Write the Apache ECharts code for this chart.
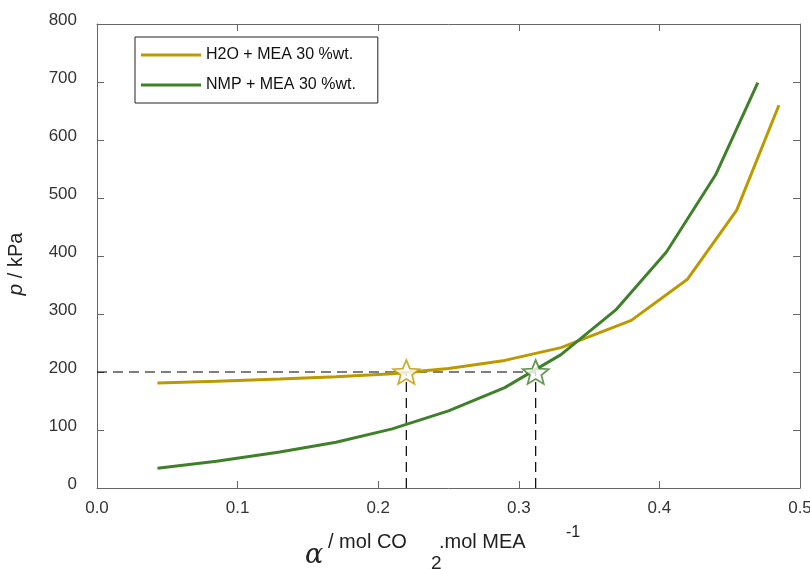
<!DOCTYPE html>
<html>
<head>
<meta charset="utf-8">
<script src="https://cdn.jsdelivr.net/npm/echarts@6/dist/echarts.min.js"></script>
<style>
  html, body { margin: 0; padding: 0; background: #fff; }
  #chart { width: 810px; height: 569px; }
</style>
</head>
<body>
<div id="chart"></div>
<script>
// loading alpha (mol CO2 / mol MEA) vs pressure (kPa)
const h2oAlpha = [0.043, 0.085, 0.13, 0.17, 0.21, 0.25, 0.29, 0.33, 0.38, 0.42, 0.455, 0.485];
const h2oP     = [181, 184, 188, 192, 197, 206, 220, 242, 289, 360, 479, 660];
const nmpAlpha = [0.043, 0.085, 0.13, 0.17, 0.21, 0.25, 0.29, 0.33, 0.369, 0.405, 0.44, 0.47];
const nmpP     = [34, 46, 62, 79, 102, 133, 173, 230, 307, 407, 540, 699];

// operating point at 200 kPa
const targetP = 200;
const h2oAlphaAt200 = 0.22;
const nmpAlphaAt200 = 0.312;

const xTicks = [0, 0.5, 0.1];   // min, max, interval
const yTicks = [0, 800, 100];

const GOLD = "#BD9900";
const GREEN = "#41802A";
const FONT = "Liberation Sans, Arial, sans-serif";

const star = "path://M0 -10 L2.6 -3.5 L9.51 -3.09 L4.2 1.4 L5.88 8.09 L0 4.4 L-5.88 8.09 L-4.2 1.4 L-9.51 -3.09 L-2.6 -3.5 Z";

const pairs = (xs, ys) => xs.map((x, i) => [x, ys[i]]);

const chart = echarts.init(document.getElementById("chart"));

const axisLineStyle = { color: "#666", width: 1 };
const tickStyle = { show: true, inside: true, length: 7, lineStyle: { color: "#666" } };
const dashStyle = { color: "#000", width: 1.2, type: [10, 6] };

chart.setOption({
  backgroundColor: "#fff",
  animation: false,
  grid: { left: 97, right: 10, top: 24, bottom: 81, outerBoundsMode: "none", containLabel: false },
  legend: {
    left: 135,
    top: 37,
    orient: "vertical",
    data: ["H2O + MEA 30 %wt.", "NMP + MEA 30 %wt."],
    icon: "rect",
    itemWidth: 60,
    itemHeight: 3,
    itemGap: 14,
    padding: [10, 22, 10, 6],
    borderColor: "#222",
    borderWidth: 1,
    textStyle: { color: "#111", fontSize: 16, fontFamily: FONT },
    selectedMode: false,
  },
  xAxis: [
    {
      type: "value",
      min: xTicks[0], max: xTicks[1], interval: xTicks[2],
      axisLine: { show: true, onZero: false, lineStyle: axisLineStyle },
      axisTick: tickStyle,
      splitLine: { show: false },
      axisLabel: {
        color: "#333", fontSize: 17, fontFamily: FONT, margin: 12,
        formatter: (v) => v.toFixed(1),
      },
    },
    {
      type: "value", position: "top",
      min: xTicks[0], max: xTicks[1], interval: xTicks[2],
      axisLine: { show: true, onZero: false, lineStyle: axisLineStyle },
      axisTick: tickStyle,
      axisLabel: { show: false },
      splitLine: { show: false },
    },
  ],
  yAxis: [
    {
      type: "value",
      min: yTicks[0], max: yTicks[1], interval: yTicks[2],
      axisLine: { show: true, onZero: false, lineStyle: axisLineStyle },
      axisTick: tickStyle,
      splitLine: { show: false },
      axisLabel: {
        color: "#333", fontSize: 17, fontFamily: FONT, margin: 20,
        verticalAlign: "bottom", lineHeight: 7,
      },
    },
    {
      type: "value", position: "right",
      min: yTicks[0], max: yTicks[1], interval: yTicks[2],
      axisLine: { show: true, onZero: false, lineStyle: axisLineStyle },
      axisTick: tickStyle,
      axisLabel: { show: false },
      splitLine: { show: false },
    },
  ],
  graphic: [
    {
      type: "text", x: 16, y: 264, rotation: Math.PI / 2,
      style: {
        text: "{i|p} / kPa", align: "center", verticalAlign: "middle",
        fontSize: 20, fontFamily: FONT, fill: "#222",
        rich: { i: { fontStyle: "italic", fontSize: 21, fontFamily: FONT, fill: "#222" } },
      },
    },
    { type: "text", x: 314, y: 556, style: { text: "α", align: "center", verticalAlign: "middle", fontSize: 27, fontStyle: "italic", fontFamily: "DejaVu Serif, serif", fill: "#222" } },
    { type: "text", x: 328, y: 542, style: { text: "/ mol CO", verticalAlign: "middle", fontSize: 20, fontFamily: FONT, fill: "#222" } },
    { type: "text", x: 431, y: 564, style: { text: "2", verticalAlign: "middle", fontSize: 19, fontFamily: FONT, fill: "#222" } },
    { type: "text", x: 439, y: 542, style: { text: ".mol MEA", verticalAlign: "middle", fontSize: 20, fontFamily: FONT, fill: "#222" } },
    { type: "text", x: 566, y: 533, style: { text: "-1", verticalAlign: "middle", fontSize: 16, fontFamily: FONT, fill: "#222" } },
  ],
  series: [
    {
      name: "guide",
      type: "line",
      data: [[0, targetP], [nmpAlphaAt200, targetP]],
      showSymbol: false,
      silent: true,
      lineStyle: dashStyle,
      z: 1,
    },
    {
      name: "guide2",
      type: "line",
      data: [[h2oAlphaAt200, 0], [h2oAlphaAt200, targetP]],
      showSymbol: false,
      silent: true,
      lineStyle: dashStyle,
      z: 1,
    },
    {
      name: "guide3",
      type: "line",
      data: [[nmpAlphaAt200, 0], [nmpAlphaAt200, targetP]],
      showSymbol: false,
      silent: true,
      lineStyle: dashStyle,
      z: 1,
    },
    {
      name: "H2O + MEA 30 %wt.",
      type: "line",
      data: pairs(h2oAlpha, h2oP),
      showSymbol: false,
      itemStyle: { color: GOLD },
      lineStyle: { color: GOLD, width: 3 },
      z: 3,
    },
    {
      name: "NMP + MEA 30 %wt.",
      type: "line",
      data: pairs(nmpAlpha, nmpP),
      showSymbol: false,
      itemStyle: { color: GREEN },
      lineStyle: { color: GREEN, width: 3 },
      z: 3,
    },
    {
      name: "stars",
      type: "scatter",
      data: [
        { value: [h2oAlphaAt200, targetP], itemStyle: { borderColor: GOLD } },
        { value: [nmpAlphaAt200, targetP], itemStyle: { borderColor: GREEN } },
      ],
      symbol: star,
      symbolSize: [26, 25],
      symbolKeepAspect: true,
      itemStyle: { color: "#fff", borderWidth: 1.8 },
      silent: true,
      z: 5,
    },
  ],
});
</script>
</body>
</html>
